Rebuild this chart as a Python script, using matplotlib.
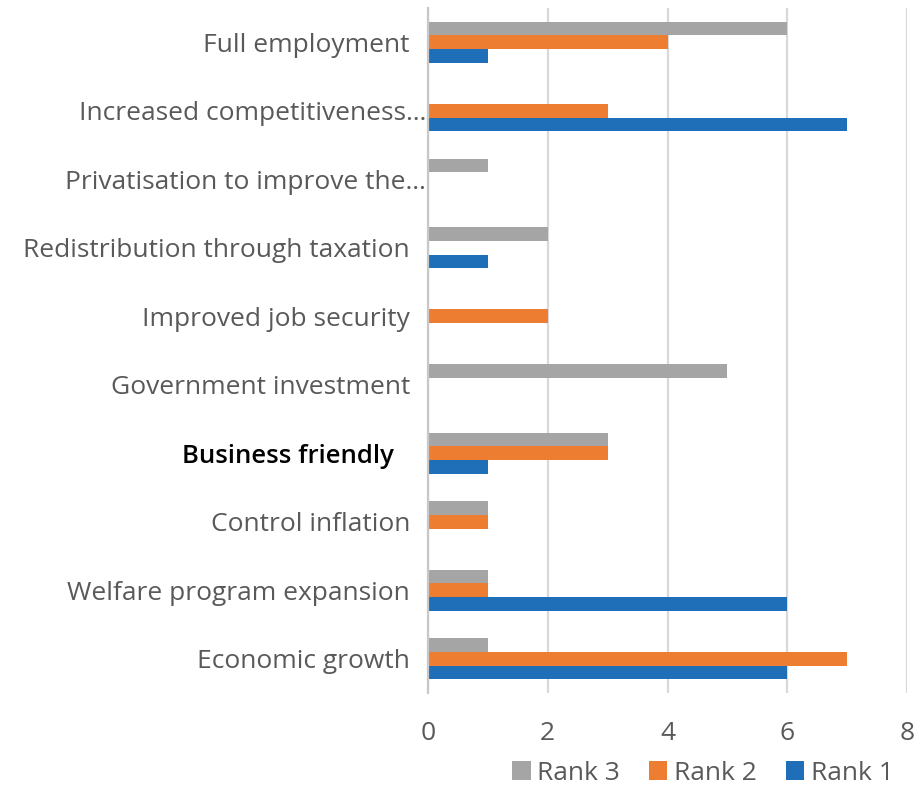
import matplotlib
matplotlib.use("Agg")
import matplotlib.pyplot as plt
import matplotlib.transforms as mtransforms
import numpy as np

# Categories listed bottom to top (as drawn on the y axis)
categories = [
    "Economic growth",
    "Welfare program expansion",
    "Control inflation",
    "Business friendly",
    "Government investment",
    "Improved job security",
    "Redistribution through taxation",
    "Privatisation to improve the…",
    "Increased competitiveness…",
    "Full employment",
]
rank1 = [6, 6, 0, 1, 0, 0, 1, 0, 7, 1]
rank2 = [7, 1, 1, 3, 0, 2, 0, 0, 3, 4]
rank3 = [1, 1, 1, 3, 5, 0, 2, 1, 0, 6]
x_ticks = [0, 2, 4, 6, 8]

plt.rcParams["font.family"] = ["Open Sans", "DejaVu Sans"]

text_color = "#595959"
c_rank1 = "#1F6FB8"
c_rank2 = "#ED7D31"
c_rank3 = "#A5A5A5"

fig = plt.figure(figsize=(9.19, 7.95), dpi=100)
ax = fig.add_axes([428 / 919, 1 - 693 / 795, (907 - 428) / 919, (693 - 8) / 795])

y = np.arange(len(categories))
h = 0.2
ax.barh(y - h, rank1, height=h, color=c_rank1, label="Rank 1", zorder=3)
ax.barh(y, rank2, height=h, color=c_rank2, label="Rank 2", zorder=3)
ax.barh(y + h, rank3, height=h, color=c_rank3, label="Rank 3", zorder=3)

ax.set_xlim(0, 8)
ax.set_ylim(-0.5, len(categories) - 0.5)
ax.set_xticks(x_ticks)
ax.set_xticklabels([str(t) for t in x_ticks])
ax.set_yticks(y)
ax.set_yticklabels(categories)

ax.xaxis.grid(True, color="#D9D9D9", linewidth=1.6, zorder=0)
ax.set_axisbelow(True)
for side in ["top", "right", "bottom"]:
    ax.spines[side].set_visible(False)
ax.spines["left"].set_color("#C8C8C8")
ax.spines["left"].set_linewidth(1.6)
ax.spines["left"].set_zorder(4)

ax.tick_params(axis="y", length=0, labelsize=19, labelcolor=text_color, pad=13)
ax.tick_params(axis="x", length=0, labelsize=19, labelcolor=text_color, pad=20)

# Labels that run up to the axis line, and the highlighted one
for lbl in ax.get_yticklabels():
    t = lbl.get_text()
    if t.endswith("…"):
        lbl.set_transform(lbl.get_transform() + mtransforms.ScaledTranslation(16 / 100, 0, fig.dpi_scale_trans))
    if t == "Business friendly":
        lbl.set_color("black")
        lbl.set_fontweight("semibold")
        lbl.set_fontsize(18.5)
        lbl.set_transform(lbl.get_transform() + mtransforms.ScaledTranslation(-16 / 100, 0, fig.dpi_scale_trans))

handles, labels = ax.get_legend_handles_labels()
order = [2, 1, 0]
leg = fig.legend([handles[i] for i in order], [labels[i] for i in order],
                 loc="center", bbox_to_anchor=(703 / 919, 1 - 773 / 795),
                 ncol=3, frameon=False, fontsize=19, handlelength=0.7,
                 handleheight=0.7, handletextpad=0.25, columnspacing=1.1)
for t in leg.get_texts():
    t.set_color(text_color)

fig.savefig("out.png", dpi=100)
